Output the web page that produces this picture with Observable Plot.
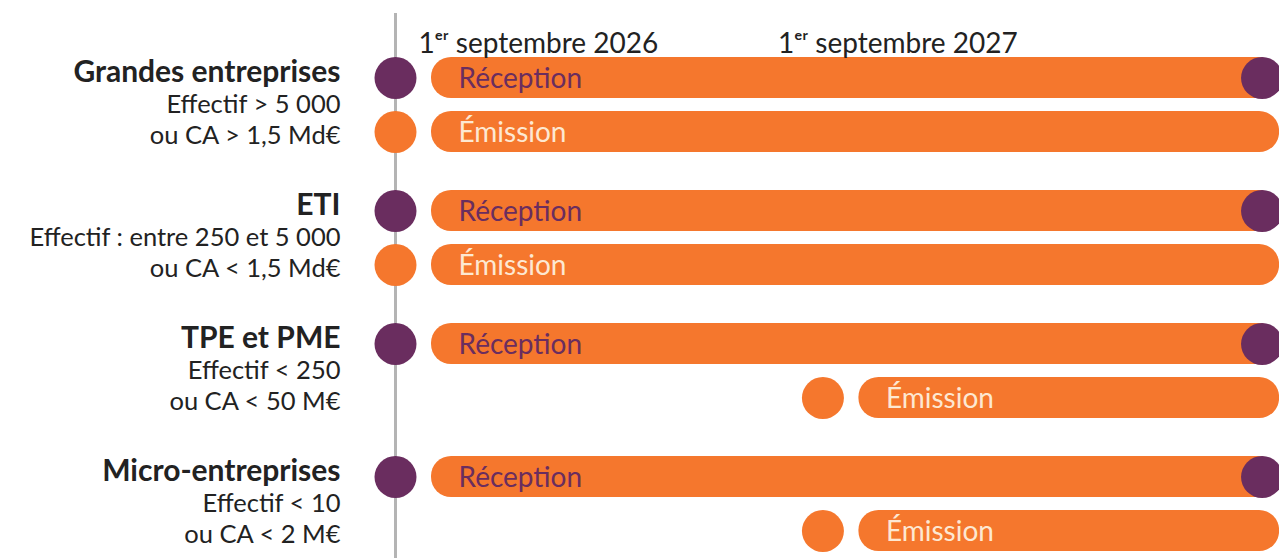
<!DOCTYPE html>
<html><head><meta charset="utf-8">
<script src="https://cdn.jsdelivr.net/npm/d3@7"></script>
<script src="https://cdn.jsdelivr.net/npm/@observablehq/plot@0.6"></script>
<style>body{margin:0;background:#fff;}</style>
</head><body><div id="chart"></div>
<script>
const groups = ["Grandes entreprises", "ETI", "TPE et PME", "Micro-entreprises"];
const sizeLine1 = ["Effectif > 5 000", "Effectif : entre 250 et 5 000", "Effectif < 250", "Effectif < 10"];
const sizeLine2 = ["ou CA > 1,5 Md€", "ou CA < 1,5 Md€", "ou CA < 50 M€", "ou CA < 2 M€"];
const types = ["Réception", "Émission"];
const receptionStart = ["2026-09-01", "2026-09-01", "2026-09-01", "2026-09-01"];
const emissionStart = ["2026-09-01", "2026-09-01", "2027-09-01", "2027-09-01"];
const barEnd = "2028-09-25";
const endMarker = "2028-09-10";
const milestones = ["2026-09-01", "2027-09-01"];
const milestoneLabels = ["1ᵉʳ septembre 2026", "1ᵉʳ septembre 2027"];

const ORANGE = "#f5772d", PURPLE = "#6a2d5f", CREAM = "#fde8d2", GRAY = "#b4b4b4", INK = "#222222";
const FONT = "Lato, 'Noto Sans', sans-serif";

const parse = d3.utcParse("%Y-%m-%d");
const rows = groups.flatMap((g, i) => [
  {group: g, type: types[0], start: parse(receptionStart[i]), end: parse(barEnd)},
  {group: g, type: types[1], start: parse(emissionStart[i]), end: parse(barEnd)}
]);
const labels = groups.map((g, i) => ({group: g, type: types[0], x: parse(receptionStart[i]), end: parse(endMarker), l1: sizeLine1[i], l2: sizeLine2[i]}));
const dates = milestones.map((d, i) => ({group: groups[0], date: parse(d), label: milestoneLabels[i]}));

const chart = Plot.plot({
  width: 1279, height: 558,
  marginLeft: 395, marginRight: 28, marginTop: 51, marginBottom: 0,
  x: {type: "utc", domain: [parse("2026-09-01"), parse("2028-09-01")], axis: null},
  y: {domain: types, paddingInner: 0.24, paddingOuter: 0.12, axis: null},
  fy: {domain: groups, paddingInner: 0.188, paddingOuter: 0, axis: null},
  style: {fontFamily: FONT, background: "#fff", overflow: "visible"},
  marks: [
    Plot.ruleX(labels, {fy: "group", x: "x", stroke: GRAY, strokeWidth: 3, insetTop: -38}),
    Plot.barX(rows, {fy: "group", y: "type", x1: "start", x2: "end", insetLeft: 36, rx: 20, fill: ORANGE}),
    Plot.dot(rows, {filter: d => d.type === types[0], fy: "group", y: "type", x: "start", r: 21, fill: PURPLE}),
    Plot.dot(rows, {filter: d => d.type === types[1], fy: "group", y: "type", x: "start", r: 21, fill: ORANGE}),
    Plot.dot(labels, {fy: "group", y: "type", x: "end", r: 21, fill: PURPLE}),
    Plot.text(rows, {filter: d => d.type === types[0], fy: "group", y: "type", x: "start", dx: 63, dy: 1, text: "type", textAnchor: "start", fill: PURPLE, fontSize: 28}),
    Plot.text(rows, {filter: d => d.type === types[1], fy: "group", y: "type", x: "start", dx: 63, dy: 1, text: "type", textAnchor: "start", fill: CREAM, fontSize: 28}),
    Plot.text(labels, {fy: "group", y: "type", x: "x", dx: -55, dy: -6, text: "group", textAnchor: "end", fontWeight: "bold", fontSize: 30, fill: INK}),
    Plot.text(labels, {fy: "group", y: "type", x: "x", dx: -55, dy: 27, text: "l1", textAnchor: "end", fontSize: 25.5, fill: INK}),
    Plot.text(labels, {fy: "group", y: "type", x: "x", dx: -55, dy: 58, text: "l2", textAnchor: "end", fontSize: 25.5, fill: INK}),
    Plot.text(dates, {filter: (d, i) => i === 0, fy: "group", x: "date", frameAnchor: "top", dy: -18, dx: 23, text: "label", textAnchor: "start", fontSize: 28, fill: INK}),
    Plot.text(dates, {filter: (d, i) => i === 1, fy: "group", x: "date", frameAnchor: "top", dy: -18, dx: -45, text: "label", textAnchor: "start", fontSize: 28, fill: INK})
  ]
});
document.getElementById("chart").append(chart);
</script>
</body></html>
